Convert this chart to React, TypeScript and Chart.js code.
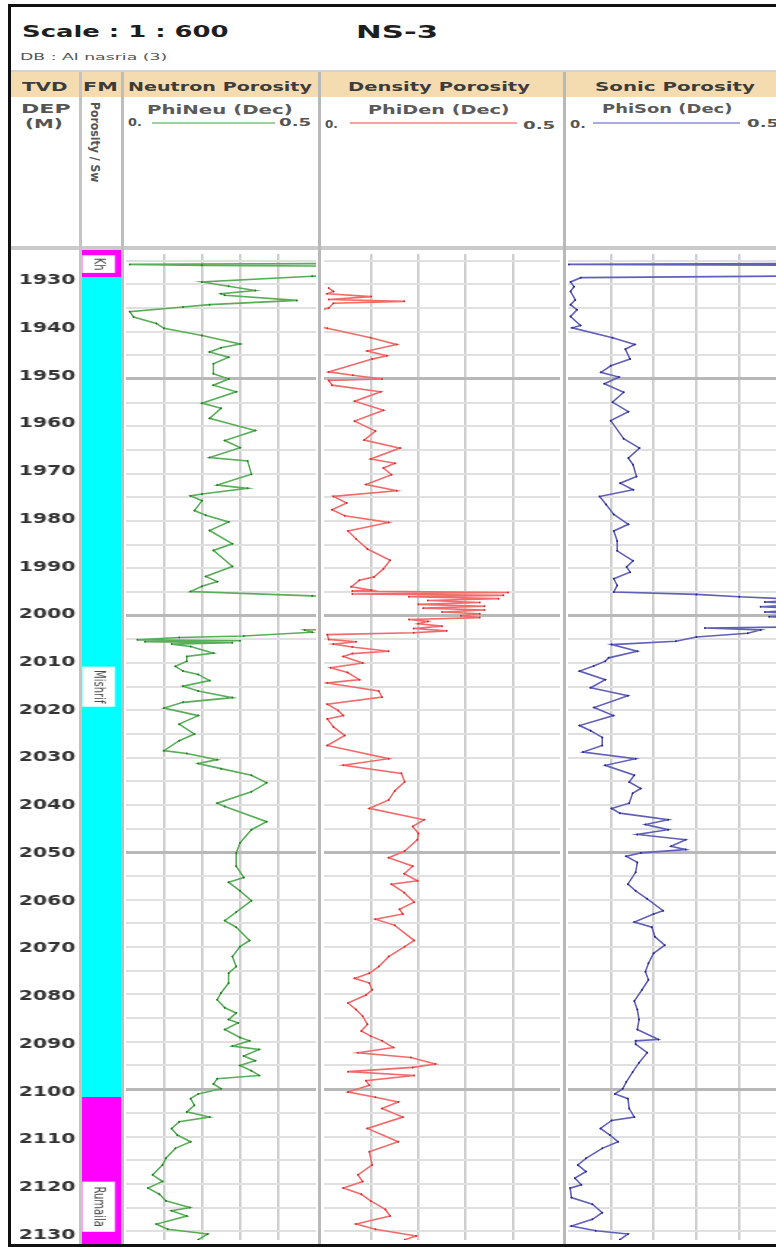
import React, { useEffect, useLayoutEffect, useRef } from "react";
import { Chart, registerables } from "chart.js";

Chart.register(...registerables);

// ---- depth window and grid -------------------------------------------------
const DEPTH_TOP = 1923.6;
const DEPTH_BASE = 2131.86;

const depthLabels = [
  1930, 1940, 1950, 1960, 1970, 1980, 1990, 2000, 2010, 2020, 2030,
  2040, 2050, 2060, 2070, 2080, 2090, 2100, 2110, 2120, 2130,
];
const depthGrid = [
  1925, 1930, 1935, 1940, 1945, 1950, 1955, 1960, 1965, 1970, 1975,
  1980, 1985, 1990, 1995, 2000, 2005, 2010, 2015, 2020, 2025, 2030,
  2035, 2040, 2045, 2050, 2055, 2060, 2065, 2070, 2075, 2080, 2085,
  2090, 2095, 2100, 2105, 2110, 2115, 2120, 2125, 2130,
];
const phiGrid = [0.1, 0.2, 0.3, 0.4];

// ---- formations ------------------------------------------------------------
const formationTop = [DEPTH_TOP, 1929.2, 2101.0];
const formationBase = [1929.2, 2101.0, DEPTH_BASE];
const formationColors = ["#ff00ff", "#00ffff", "#ff00ff"];
const formationLabels = ["Kh", "Mishrif", "Rumaila"];
const formationLabelTop = [1924.7, 2010.9, 2118.8];
const formationLabelBase = [1928.4, 2019.3, 2129.3];

// ---- PhiNeu (neutron porosity, dec) ---------------------------------------
const neutronDepth = [
  1923.6, 1925.6, 1925.8, 1926.0, 1926.2, 1928.1, 1928.3, 1929.5, 1930.4, 1931.3,
  1932.0, 1932.3, 1933.4, 1934.3, 1934.8, 1935.8, 1936.9, 1938.3, 1939.3, 1940.8,
  1942.6, 1943.4, 1944.3, 1945.4, 1946.8, 1948.9, 1950.0, 1951.3, 1952.7, 1955.1,
  1956.2, 1958.3, 1960.9, 1963.0, 1964.5, 1966.6, 1967.3, 1970.1, 1972.4, 1973.1,
  1974.3, 1974.7, 1975.7, 1977.8, 1978.8, 1980.2, 1982.0, 1984.8, 1986.2, 1989.6,
  1991.7, 1992.8, 1993.8, 1994.9, 1995.8, 1996.3, 2002.8, 2003.0, 2003.5, 2004.3,
  2004.6, 2005.1, 2005.3, 2005.5, 2005.7, 2006.0, 2006.5, 2007.9, 2008.6, 2009.6,
  2010.7, 2011.7, 2012.4, 2013.7, 2014.9, 2015.9, 2017.3, 2018.3, 2019.5, 2021.1,
  2022.9, 2025.0, 2026.4, 2028.5, 2029.1, 2030.4, 2031.2, 2032.3, 2033.7, 2035.3,
  2037.2, 2039.6, 2040.3, 2043.5, 2045.2, 2048.0, 2050.1, 2052.9, 2055.3, 2056.3,
  2058.1, 2060.2, 2062.6, 2064.4, 2065.8, 2068.6, 2069.9, 2072.0, 2074.1, 2075.5,
  2077.6, 2079.7, 2081.1, 2082.8, 2083.9, 2085.3, 2086.0, 2087.4, 2089.1, 2089.8,
  2090.9, 2091.6, 2093.0, 2094.0, 2095.0, 2096.1, 2097.1, 2097.8, 2098.9, 2099.9,
  2101.0, 2102.0, 2103.4, 2104.8, 2105.9, 2106.9, 2108.3, 2109.7, 2111.1, 2112.5,
  2114.6, 2116.0, 2118.1, 2119.5, 2120.9, 2122.2, 2123.6, 2125.0, 2125.7, 2126.8,
  2128.5, 2129.6, 2130.6, 2131.8,
];
const neutronPhi = [
  0.60, 0.60, 0.01, 0.20, 0.60, 0.60, 0.49, 0.20, 0.27, 0.34,
  0.25, 0.26, 0.45, 0.22, 0.15, 0.01, 0.02, 0.08, 0.10, 0.20,
  0.30, 0.25, 0.22, 0.27, 0.23, 0.23, 0.27, 0.23, 0.29, 0.20,
  0.25, 0.22, 0.34, 0.26, 0.30, 0.22, 0.32, 0.33, 0.24, 0.32,
  0.20, 0.17, 0.20, 0.18, 0.21, 0.27, 0.22, 0.28, 0.23, 0.28,
  0.21, 0.24, 0.20, 0.17, 0.49, 0.60, 0.60, 0.47, 0.49, 0.31,
  0.14, 0.03, 0.30, 0.05, 0.28, 0.12, 0.17, 0.23, 0.16, 0.16,
  0.13, 0.15, 0.19, 0.22, 0.15, 0.19, 0.28, 0.15, 0.10, 0.19,
  0.14, 0.18, 0.14, 0.10, 0.16, 0.24, 0.19, 0.25, 0.33, 0.37,
  0.33, 0.24, 0.26, 0.37, 0.33, 0.30, 0.29, 0.29, 0.31, 0.27,
  0.30, 0.33, 0.29, 0.26, 0.29, 0.325, 0.30, 0.28, 0.29, 0.27,
  0.27, 0.25, 0.24, 0.26, 0.29, 0.27, 0.295, 0.26, 0.30, 0.325,
  0.28, 0.35, 0.31, 0.34, 0.30, 0.33, 0.35, 0.24, 0.23, 0.25,
  0.19, 0.17, 0.18, 0.16, 0.22, 0.14, 0.12, 0.135, 0.17, 0.13,
  0.105, 0.096, 0.07, 0.096, 0.058, 0.088, 0.105, 0.168, 0.12, 0.16,
  0.08, 0.11, 0.215, 0.19,
];

// ---- PhiDen (density porosity, dec) ---------------------------------------
const densityDepth = [
  1930.8, 1931.5, 1932.0, 1932.6, 1933.2, 1933.6, 1934.0, 1935.0, 1935.5, 1939.0,
  1939.3, 1941.3, 1942.7, 1944.1, 1945.1, 1945.8, 1948.5, 1949.2, 1950.0, 1950.3,
  1951.3, 1952.7, 1954.7, 1956.6, 1958.9, 1961.0, 1962.9, 1964.6, 1966.9, 1967.8,
  1968.8, 1970.2, 1972.3, 1973.6, 1974.8, 1976.2, 1977.6, 1978.9, 1980.3, 1982.1,
  1983.8, 1985.9, 1988.3, 1990.1, 1991.8, 1992.5, 1993.9, 1994.6, 1994.8, 1995.1,
  1995.4, 1995.7, 1996.0, 1996.4, 1996.8, 1997.2, 1997.6, 1998.0, 1998.4, 1998.8,
  1999.2, 1999.6, 2000.0, 2000.4, 2000.8, 2001.2, 2001.7, 2002.2, 2002.7, 2003.2,
  2003.6, 2004.0, 2005.0, 2005.5, 2006.0, 2006.6, 2007.5, 2008.0, 2008.6, 2010.0,
  2011.0, 2012.0, 2013.5, 2014.2, 2015.9, 2017.2, 2018.7, 2020.0, 2021.1, 2021.8,
  2023.5, 2025.3, 2027.4, 2030.2, 2031.6, 2033.3, 2035.1, 2037.0, 2038.9, 2040.7,
  2043.1, 2044.5, 2046.0, 2047.3, 2049.7, 2051.1, 2052.9, 2054.5, 2056.0, 2056.7,
  2058.5, 2060.5, 2062.0, 2063.0, 2064.1, 2065.4, 2068.6, 2069.9, 2072.0, 2074.1,
  2075.5, 2076.6, 2077.6, 2079.0, 2080.1, 2081.8, 2083.2, 2084.6, 2086.3, 2087.7,
  2088.8, 2089.8, 2091.2, 2092.3, 2093.3, 2094.7, 2095.4, 2096.3, 2097.1, 2098.2,
  2099.2, 2100.6, 2101.7, 2102.7, 2104.1, 2105.9, 2108.3, 2111.1, 2113.2, 2116.0,
  2118.1, 2119.5, 2120.9, 2122.2, 2123.6, 2125.4, 2126.8, 2128.5, 2129.6, 2131.0,
  2131.8,
];
const densityPhi = [
  0.01, 0.02, 0.007, 0.10, 0.01, 0.17, 0.02, 0.01, -0.01, -0.01,
  0.007, 0.099, 0.154, 0.092, 0.133, 0.102, 0.01, 0.061, 0.123, 0.01,
  0.017, 0.12, 0.065, 0.126, 0.065, 0.109, 0.085, 0.161, 0.099, 0.15,
  0.126, 0.143, 0.089, 0.154, 0.02, 0.048, 0.017, 0.044, 0.137, 0.051,
  0.068, 0.092, 0.14, 0.126, 0.106, 0.075, 0.058, 0.10, 0.06, 0.39,
  0.06, 0.38, 0.18, 0.37, 0.22, 0.33, 0.20, 0.34, 0.21, 0.34,
  0.25, 0.33, 0.29, 0.33, 0.18, 0.22, 0.20, 0.25, 0.19, 0.26,
  0.19, 0.007, 0.01, 0.068, 0.02, 0.06, 0.137, 0.06, 0.041, 0.082,
  0.014, 0.05, 0.075, 0.007, 0.116, 0.123, 0.007, 0.03, 0.041, 0.007,
  0.02, 0.044, 0.007, 0.137, 0.041, 0.164, 0.171, 0.15, 0.137, 0.096,
  0.212, 0.188, 0.20, 0.198, 0.171, 0.137, 0.188, 0.17, 0.198, 0.143,
  0.17, 0.191, 0.16, 0.167, 0.109, 0.15, 0.191, 0.171, 0.137, 0.116,
  0.096, 0.065, 0.096, 0.102, 0.089, 0.051, 0.068, 0.082, 0.092, 0.079,
  0.099, 0.123, 0.147, 0.072, 0.184, 0.236, 0.188, 0.051, 0.191, 0.089,
  0.096, 0.051, 0.109, 0.157, 0.123, 0.167, 0.092, 0.157, 0.096, 0.102,
  0.072, 0.082, 0.041, 0.079, 0.099, 0.13, 0.14, 0.068, 0.109, 0.195,
  0.171,
];

// ---- PhiSon (sonic porosity, dec) -----------------------------------------
const sonicDepth = [
  1923.6, 1925.6, 1925.8, 1926.0, 1928.2, 1928.6, 1929.5, 1930.5, 1931.5, 1933.3,
  1934.3, 1935.4, 1936.8, 1938.7, 1939.2, 1941.3, 1942.7, 1943.7, 1945.8, 1947.2,
  1948.6, 1949.6, 1951.0, 1952.8, 1954.9, 1956.9, 1958.8, 1962.6, 1964.6, 1966.7,
  1968.1, 1970.6, 1972.0, 1973.4, 1974.8, 1976.5, 1978.6, 1980.7, 1982.1, 1984.2,
  1986.3, 1988.4, 1989.7, 1990.8, 1992.2, 1993.6, 1995.0, 1995.5, 1996.0, 1996.6,
  1997.1, 1997.6, 1998.1, 1998.6, 1999.2, 1999.7, 2000.2, 2001.0, 2002.3, 2002.6,
  2003.0, 2003.7, 2004.5, 2005.4, 2006.1, 2007.5, 2008.9, 2009.6, 2010.6, 2011.7,
  2013.5, 2015.2, 2016.9, 2019.4, 2021.1, 2023.2, 2024.3, 2025.7, 2027.4, 2028.8,
  2030.2, 2031.6, 2033.7, 2035.1, 2036.5, 2037.5, 2039.6, 2040.7, 2041.7, 2043.1,
  2044.1, 2045.2, 2046.2, 2047.3, 2048.7, 2049.4, 2050.1, 2050.8, 2052.1, 2054.2,
  2056.7, 2058.1, 2059.8, 2062.3, 2063.0, 2064.7, 2065.8, 2067.8, 2069.6, 2071.3,
  2073.4, 2075.2, 2076.9, 2079.0, 2081.4, 2083.2, 2085.3, 2087.4, 2089.5, 2089.8,
  2090.5, 2092.3, 2094.4, 2096.4, 2098.5, 2099.9, 2101.0, 2102.0, 2104.1, 2105.9,
  2106.6, 2108.3, 2109.7, 2111.1, 2112.5, 2114.6, 2116.0, 2117.4, 2118.8, 2120.2,
  2120.9, 2122.9, 2124.3, 2126.1, 2127.5, 2128.9, 2129.9, 2130.6, 2131.8,
];
const sonicPhi = [
  0.60, 0.60, 0.002, 0.60, 0.60, 0.03, 0.006, 0.014, 0.006, 0.017,
  0.006, 0.021, 0.006, 0.029, 0.01, 0.104, 0.156, 0.134, 0.145, 0.10,
  0.077, 0.119, 0.085, 0.13, 0.104, 0.141, 0.10, 0.13, 0.167, 0.141,
  0.152, 0.16, 0.122, 0.152, 0.074, 0.089, 0.107, 0.141, 0.107, 0.115,
  0.115, 0.152, 0.137, 0.145, 0.107, 0.115, 0.107, 0.30, 0.40, 0.55,
  0.46, 0.55, 0.45, 0.56, 0.46, 0.55, 0.47, 0.60, 0.60, 0.32,
  0.45, 0.42, 0.30, 0.252, 0.102, 0.162, 0.095, 0.087, 0.06, 0.027,
  0.087, 0.053, 0.14, 0.061, 0.106, 0.027, 0.053, 0.08, 0.08, 0.035,
  0.158, 0.087, 0.155, 0.143, 0.17, 0.151, 0.143, 0.102, 0.121, 0.234,
  0.181, 0.234, 0.162, 0.275, 0.241, 0.275, 0.17, 0.136, 0.162, 0.158,
  0.14, 0.158, 0.185, 0.222, 0.2, 0.155, 0.196, 0.203, 0.226, 0.2,
  0.188, 0.181, 0.188, 0.173, 0.155, 0.162, 0.166, 0.162, 0.211, 0.158,
  0.158, 0.185, 0.166, 0.151, 0.136, 0.128, 0.11, 0.14, 0.143, 0.155,
  0.102, 0.076, 0.098, 0.117, 0.08, 0.042, 0.023, 0.042, 0.016, 0.031,
  0.005, 0.008, 0.057, 0.08, 0.057, 0.008, 0.065, 0.14, 0.121,
];

// ---- layout ------------------------------------------------------------------
const FONT = '"DejaVu Sans", Verdana, sans-serif';
const DATA_TOP = 250;
const DATA_H = 994;
const STRETCH = 112 / 77; // depth column canvas is drawn narrow and widened

type TextProps = {
  text: string;
  x: number;
  cy: number;
  w: number;
  size: number;
  weight?: number;
  color?: string;
};

// Text fitted horizontally into a given width (wide header lettering).
function FitText({ text, x, cy, w, size, weight = 700, color = "#333" }: TextProps) {
  const ref = useRef<HTMLSpanElement>(null);
  useLayoutEffect(() => {
    const el = ref.current;
    if (!el) return;
    const natural = el.offsetWidth || 1;
    el.style.transform = `scaleX(${w / natural})`;
  }, [text, w, size]);
  return (
    <span
      ref={ref}
      style={{
        position: "absolute",
        left: x,
        top: cy - size / 2,
        fontFamily: FONT,
        fontSize: size,
        fontWeight: weight,
        lineHeight: `${size}px`,
        color,
        whiteSpace: "nowrap",
        transformOrigin: "0 50%",
      }}
    >
      {text}
    </span>
  );
}

type RotProps = { text: string; x: number; y: number; len: number; size: number; thick: number; color: string };

// Vertical text reading top to bottom; x is its right edge, y its top.
function RotText({ text, x, y, len, size, thick, color }: RotProps) {
  const ref = useRef<HTMLSpanElement>(null);
  useLayoutEffect(() => {
    const el = ref.current;
    if (!el) return;
    const natural = el.offsetWidth || 1;
    el.style.transform = `rotate(90deg) scale(${len / natural}, ${thick / size})`;
  }, [text, len, size, thick]);
  return (
    <span
      ref={ref}
      style={{
        position: "absolute",
        left: x,
        top: y,
        fontFamily: FONT,
        fontSize: size,
        fontWeight: 700,
        lineHeight: `${size}px`,
        color,
        whiteSpace: "nowrap",
        transformOrigin: "0 0",
      }}
    >
      {text}
    </span>
  );
}

const formationLabelPlugin = {
  id: "formationLabels",
  afterDatasetsDraw(chart: any) {
    const { ctx, chartArea, scales } = chart;
    const y = scales.y;
    formationLabels.forEach((label, i) => {
      const y0 = y.getPixelForValue(formationLabelTop[i]);
      const y1 = y.getPixelForValue(formationLabelBase[i]);
      const x0 = chartArea.left + 1.5;
      const x1 = chartArea.left + 24.2;
      ctx.save();
      ctx.fillStyle = "#ffffff";
      ctx.fillRect(x0, y0, x1 - x0, y1 - y0);
      ctx.beginPath();
      ctx.rect(x0, y0, x1 - x0, y1 - y0);
      ctx.clip();
      ctx.translate((x0 + x1) / 2, (y0 + y1) / 2);
      ctx.rotate(Math.PI / 2);
      ctx.font = `10px ${FONT}`;
      ctx.fillStyle = "#4a4a4a";
      ctx.textAlign = "center";
      ctx.textBaseline = "middle";
      ctx.fillText(label, 0, 0);
      ctx.restore();
    });
  },
};

function DepthColumn() {
  const ref = useRef<HTMLCanvasElement>(null);
  useEffect(() => {
    const canvas = ref.current;
    if (!canvas) return;
    const chart = new Chart(canvas, {
      type: "bar",
      data: {
        labels: ["FM"],
        datasets: formationTop.map((top, i) => ({
          data: [[top, formationBase[i]]],
          backgroundColor: formationColors[i],
          borderWidth: 0,
          barPercentage: 1,
          categoryPercentage: 1,
          grouped: false,
        })),
      },
      options: {
        responsive: false,
        animation: false,
        devicePixelRatio: 1,
        events: [],
        layout: { padding: 0 },
        plugins: { legend: { display: false }, tooltip: { enabled: false } },
        scales: {
          x: { display: false },
          y: {
            type: "linear",
            min: DEPTH_TOP,
            max: DEPTH_BASE,
            reverse: true,
            afterFit: (s: any) => {
              // fixed label column; keep the plot area on the full canvas height
              s.width = 48;
              s.paddingTop = 0;
              s.paddingBottom = 0;
            },
            afterBuildTicks: (s: any) => {
              s.ticks = depthLabels.map((v) => ({ value: v }));
            },
            grid: { display: false, drawTicks: false },
            border: { display: false },
            ticks: {
              callback: (v: any) => String(v),
              font: { family: FONT, size: 14, weight: "bold" },
              color: "#333333",
              padding: 3,
              autoSkip: false,
            },
          },
        },
      } as any,
      plugins: [formationLabelPlugin],
    });
    return () => chart.destroy();
  }, []);
  return (
    <canvas
      ref={ref}
      width={77}
      height={DATA_H}
      style={{ position: "absolute", left: 10, top: DATA_TOP, width: 77 * STRETCH, height: DATA_H }}
    />
  );
}

type TrackProps = { left: number; width: number; depths: number[]; values: number[]; color: string; dot: string };

function LogTrack({ left, width, depths, values, color, dot }: TrackProps) {
  const ref = useRef<HTMLCanvasElement>(null);
  useEffect(() => {
    const canvas = ref.current;
    if (!canvas) return;
    const chart = new Chart(canvas, {
      type: "line",
      data: {
        datasets: [
          {
            data: depths.map((d, i) => ({ x: values[i], y: d })),
            borderColor: color,
            borderWidth: 1.6,
            pointRadius: 1,
            pointBorderWidth: 0,
            pointBackgroundColor: dot,
            tension: 0,
            fill: false,
          },
        ],
      },
      options: {
        responsive: false,
        animation: false,
        devicePixelRatio: 1,
        events: [],
        layout: { padding: 0 },
        plugins: { legend: { display: false }, tooltip: { enabled: false } },
        scales: {
          x: {
            type: "linear",
            min: 0,
            max: 0.5,
            ticks: { display: false },
            border: { display: false },
            grid: { drawTicks: false, color: "#cfcfcf", lineWidth: 2.5 },
            afterBuildTicks: (s: any) => {
              s.ticks = phiGrid.map((v) => ({ value: v }));
            },
          },
          y: {
            type: "linear",
            min: DEPTH_TOP,
            max: DEPTH_BASE,
            reverse: true,
            ticks: { display: false },
            border: { display: false },
            grid: {
              drawTicks: false,
              color: (c: any) => (c.tick && c.tick.value % 50 === 0 ? "#b8b8b8" : "#e0e0e0"),
              lineWidth: (c: any) => (c.tick && c.tick.value % 50 === 0 ? 3 : 2),
            },
            afterBuildTicks: (s: any) => {
              s.ticks = depthGrid.map((v) => ({ value: v }));
            },
          },
        },
      } as any,
    });
    return () => chart.destroy();
  }, []);
  return (
    <canvas
      ref={ref}
      width={width}
      height={DATA_H}
      style={{ position: "absolute", left, top: DATA_TOP, width, height: DATA_H }}
    />
  );
}

const box = (left: number, top: number, width: number, height: number, background: string) => (
  <div style={{ position: "absolute", left, top, width, height, background }} />
);

export default function App() {
  return (
    <div
      style={{
        position: "absolute",
        left: 0,
        top: 0,
        width: 776,
        height: 1247,
        overflow: "hidden",
        background: "#ffffff",
      }}
    >
      {/* title block */}
      <FitText text="Scale : 1 : 600" x={22} cy={32} w={207} size={15} color="#1e1e1e" />
      <FitText text="NS-3" x={356} cy={32} w={82} size={18} color="#1e1e1e" />
      <FitText text="DB : Al nasria (3)" x={20} cy={57.5} w={148} size={9} weight={400} color="#555" />

      {/* track title row */}
      {box(10, 70, 800, 2, "#d2d2d2")}
      {box(10, 72, 800, 25, "#f4dcb0")}
      <FitText text="TVD" x={22} cy={86} w={46} size={13} color="#3c3c3c" />
      <FitText text="FM" x={83} cy={86} w={35} size={13} color="#3c3c3c" />
      <FitText text="Neutron Porosity" x={128} cy={86} w={184} size={13} color="#3c3c3c" />
      <FitText text="Density Porosity" x={348} cy={86} w={182} size={13} color="#3c3c3c" />
      <FitText text="Sonic Porosity" x={595} cy={86} w={160} size={13} color="#3c3c3c" />

      {/* curve scale headers */}
      <FitText text="DEP" x={21} cy={109.5} w={50} size={11.5} color="#555" />
      <FitText text="(M)" x={25} cy={124.5} w={38} size={11.5} color="#555" />
      <RotText text="Porosity / Sw" x={100} y={102} len={80} size={9} thick={12} color="#555" />

      <FitText text="PhiNeu (Dec)" x={147} cy={111} w={146} size={11.5} color="#5a5a5a" />
      <FitText text="0." x={128} cy={122} w={14} size={11} color="#555" />
      <FitText text="0.5" x={279} cy={122} w={33} size={11} color="#555" />
      {box(152, 122, 123, 2, "#9fd09f")}

      <FitText text="PhiDen (Dec)" x={368} cy={111} w={142} size={11.5} color="#5a5a5a" />
      <FitText text="0." x={325} cy={124} w={13} size={11} color="#555" />
      <FitText text="0.5" x={523} cy={125} w={33} size={11} color="#555" />
      {box(350, 122, 167, 2, "#f4a2a2")}

      <FitText text="PhiSon (Dec)" x={602} cy={110} w={131} size={11.5} color="#5a5a5a" />
      <FitText text="0." x={570} cy={124} w={16} size={11} color="#555" />
      <FitText text="0.5" x={747} cy={123} w={33} size={11} color="#555" />
      {box(593, 122, 147, 2, "#aaaadb")}

      {/* header / log boundary */}
      {box(10, 246, 800, 4, "#cacaca")}

      {/* log tracks */}
      <DepthColumn />
      <LogTrack left={122} width={198} depths={neutronDepth} values={neutronPhi} color="#58ad58" dot="#237d23" />
      <LogTrack left={320} width={244} depths={densityDepth} values={densityPhi} color="#f26a6a" dot="#d83030" />
      <LogTrack left={564} width={222} depths={sonicDepth} values={sonicPhi} color="#6060b8" dot="#2a2a8a" />

      {/* column separators */}
      {box(79, 72, 2.5, 1172, "#c4c4c4")}
      {box(120.5, 72, 3, 1172, "#bdbdbd")}
      {box(318, 72, 3, 1172, "#b9b9b9")}
      {box(562.5, 72, 3, 1172, "#b9b9b9")}

      {/* outer frame */}
      <div
        style={{
          position: "absolute",
          left: 8,
          top: 4,
          width: 1000,
          height: 1243,
          boxSizing: "border-box",
          border: "3px solid #111",
        }}
      />
    </div>
  );
}
